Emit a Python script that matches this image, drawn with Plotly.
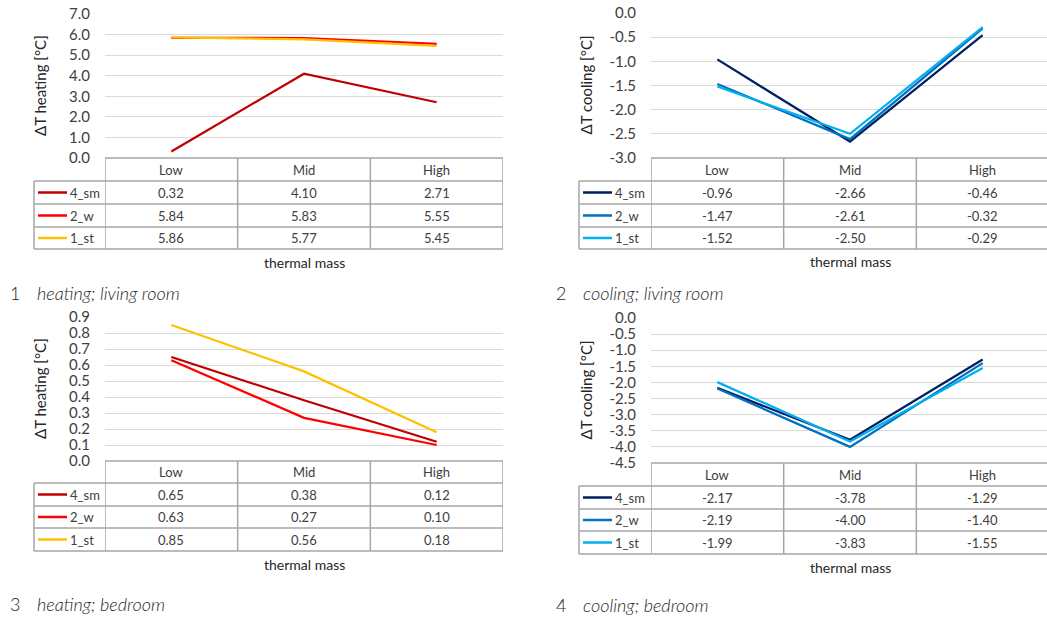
import plotly.graph_objects as go

W, H = 1047, 618

categories = ["Low", "Mid", "High"]
series_names = ["4_sm", "2_w", "1_st"]

heat_living_4sm = [0.32, 4.10, 2.71]
heat_living_2w = [5.84, 5.83, 5.55]
heat_living_1st = [5.86, 5.77, 5.45]

cool_living_4sm = [-0.96, -2.66, -0.46]
cool_living_2w = [-1.47, -2.61, -0.32]
cool_living_1st = [-1.52, -2.50, -0.29]

heat_bed_4sm = [0.65, 0.38, 0.12]
heat_bed_2w = [0.63, 0.27, 0.10]
heat_bed_1st = [0.85, 0.56, 0.18]

cool_bed_4sm = [-2.17, -3.78, -1.29]
cool_bed_2w = [-2.19, -4.00, -1.40]
cool_bed_1st = [-1.99, -3.83, -1.55]

heat_colors = ["#C00000", "#FF0000", "#FFC000"]
cool_colors = ["#002060", "#0070C0", "#00B0F0"]

FONT = "Lato"
TXT = "#404040"
GRID = "#D9D9D9"
BORDER = "#A6A6A6"


def px(x):
    return x / W


def py(y):
    return 1 - y / H


panels = [
    dict(n="1", series=[heat_living_4sm, heat_living_2w, heat_living_1st], colors=heat_colors,
         ylab="ΔT heating [°C]", cap="heating; living room", yr=(0, 7), dt=1.0,
         left=105, right=503, top=14, bottom=158, leg=34,
         rows=[158, 181, 204, 227, 249], tm=262, capy=293, capn=8, capt=35, ylx=40),
    dict(n="2", series=[cool_living_4sm, cool_living_2w, cool_living_1st], colors=cool_colors,
         ylab="ΔT cooling [°C]", cap="cooling; living room", yr=(-3, 0), dt=0.5,
         left=651, right=1047, top=13, bottom=158, leg=579,
         rows=[158, 181, 204, 227, 249], tm=261, capy=293, capn=554, capt=581, ylx=585),
    dict(n="3", series=[heat_bed_4sm, heat_bed_2w, heat_bed_1st], colors=heat_colors,
         ylab="ΔT heating [°C]", cap="heating; bedroom", yr=(0, 0.9), dt=0.1,
         left=105, right=503, top=317, bottom=461, leg=34,
         rows=[461, 483, 506, 528, 551], tm=564, capy=604, capn=8, capt=35, ylx=40),
    dict(n="4", series=[cool_bed_4sm, cool_bed_2w, cool_bed_1st], colors=cool_colors,
         ylab="ΔT cooling [°C]", cap="cooling; bedroom", yr=(-4.5, 0), dt=0.5,
         left=651, right=1047, top=318, bottom=463, leg=579,
         rows=[463, 486, 509, 531, 554], tm=567, capy=605, capn=554, capt=581, ylx=585),
]

COLW = (503 - 105) / 3.0

fig = go.Figure()
shapes = []
annotations = []
layout = {}

for i, p in enumerate(panels):
    k = "" if i == 0 else str(i + 1)
    xa, ya = "x" + k, "y" + k
    xr_end = -0.5 + (p["right"] - p["left"]) / COLW
    y0, y1 = p["yr"]
    nt = int(round((y1 - y0) / p["dt"]))
    tv = [round(y0 + j * p["dt"], 2) + 0.0 for j in range(nt + 1)]
    tt = [f"{v:.1f}" for v in tv]
    layout["xaxis" + k] = dict(domain=[px(p["left"]), px(p["right"])], anchor=ya,
                               type="category", categoryorder="array", categoryarray=categories,
                               range=[-0.5, xr_end], showgrid=False, showline=False,
                               showticklabels=False, ticks="", zeroline=False, fixedrange=True,
                               automargin=False)
    layout["yaxis" + k] = dict(domain=[py(p["bottom"]), py(p["top"])], anchor=xa,
                               range=[y0, y1], tickvals=tv, ticktext=tt,
                               showgrid=True, gridcolor=GRID, gridwidth=1, zeroline=False,
                               showline=False, ticks="", ticklabelstandoff=14,
                               tickfont=dict(family=FONT, size=15, color=TXT), fixedrange=True,
                               automargin=False)
    for name, vals, col in zip(series_names, p["series"], p["colors"]):
        fig.add_trace(go.Scatter(x=categories, y=vals, mode="lines", name=name,
                                 line=dict(color=col, width=2.25), xaxis=xa, yaxis=ya,
                                 showlegend=False, hoverinfo="skip"))
    rows = p["rows"]
    xref = xa
    shapes.append(dict(type="line", xref="paper", yref="paper", x0=px(p["left"]), x1=px(p["right"]),
                       y0=py(rows[0]), y1=py(rows[0]), line=dict(color=BORDER, width=1.5)))
    for r in rows[1:]:
        shapes.append(dict(type="line", xref="paper", yref="paper", x0=px(p["leg"]), x1=px(p["right"]),
                           y0=py(r), y1=py(r), line=dict(color=BORDER, width=1.5)))
    for xv in [-0.5, 0.5, 1.5, 2.5]:
        shapes.append(dict(type="line", xref=xref, yref="paper",
                           x0=xv, x1=xv, y0=py(rows[0]), y1=py(rows[-1]),
                           line=dict(color=BORDER, width=1.5)))
    shapes.append(dict(type="line", xref="paper", yref="paper", x0=px(p["leg"]), x1=px(p["leg"]),
                       y0=py(rows[1]), y1=py(rows[-1]), line=dict(color=BORDER, width=1.5)))
    hy = py((rows[0] + rows[1]) / 2)
    for c in categories:
        annotations.append(dict(x=c, y=hy, xref=xref, yref="paper", text=c, showarrow=False,
                                xanchor="center", yanchor="middle",
                                font=dict(family=FONT, size=13, color=TXT)))
    for r_i, (name, vals, col) in enumerate(zip(series_names, p["series"], p["colors"])):
        ym = (rows[r_i + 1] + rows[r_i + 2]) / 2
        shapes.append(dict(type="line", xref="paper", yref="paper",
                           x0=px(p["leg"] + 4), x1=px(p["leg"] + 33), y0=py(ym), y1=py(ym),
                           line=dict(color=col, width=2.5)))
        annotations.append(dict(x=px(p["leg"] + 34), y=py(ym), xref="paper", yref="paper",
                                text=name, showarrow=False, xanchor="left", yanchor="middle",
                                font=dict(family=FONT, size=13, color=TXT)))
        for c, v in zip(categories, vals):
            annotations.append(dict(x=c, y=py(ym), xref=xref, yref="paper", text=f"{v:.2f}",
                                    showarrow=False, xanchor="center", yanchor="middle",
                                    font=dict(family=FONT, size=13, color=TXT)))
    annotations.append(dict(x=1, y=py(p["tm"]), xref=xref, yref="paper", text="thermal mass",
                            showarrow=False, xanchor="center", yanchor="middle",
                            font=dict(family=FONT, size=14, color="#262626")))
    annotations.append(dict(x=px(p["ylx"]), y=py((p["top"] + p["bottom"]) / 2), xref="paper",
                            yref="paper", text=p["ylab"], showarrow=False, textangle=-90,
                            xanchor="center", yanchor="middle",
                            font=dict(family=FONT, size=15, color="#262626")))
    annotations.append(dict(x=px(p["capn"]), y=py(p["capy"]), xref="paper", yref="paper",
                            text=p["n"], showarrow=False, xanchor="left", yanchor="middle",
                            font=dict(family=FONT, size=18, color="#262626", weight=300)))
    annotations.append(dict(x=px(p["capt"]), y=py(p["capy"]), xref="paper", yref="paper",
                            text=p["cap"], showarrow=False, xanchor="left", yanchor="middle",
                            font=dict(family=FONT, size=18, color="#262626", style="italic",
                                      weight=300)))

fig.update_layout(width=W, height=H, margin=dict(l=0, r=0, t=0, b=0, autoexpand=False),
                  paper_bgcolor="white", plot_bgcolor="white", showlegend=False,
                  shapes=shapes, annotations=annotations, **layout)

fig.write_html("out.html", config={"displayModeBar": False},
               post_script="document.body.style.margin='0';document.body.style.overflow='hidden';")
